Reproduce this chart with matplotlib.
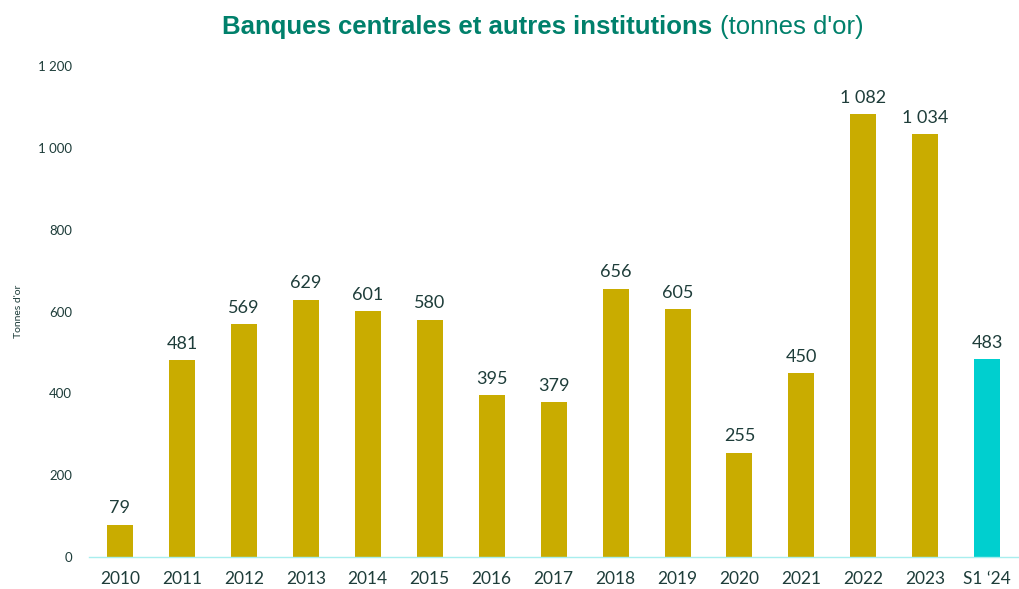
import matplotlib
matplotlib.use("Agg")
import matplotlib.pyplot as plt

categories = ["2010", "2011", "2012", "2013", "2014", "2015", "2016", "2017",
              "2018", "2019", "2020", "2021", "2022", "2023", "S1 \u201824"]
values = [79, 481, 569, 629, 601, 580, 395, 379, 656, 605, 255, 450, 1082, 1034, 483]
yticks = [0, 200, 400, 600, 800, 1000, 1200]
ytick_labels = ["0", "200", "400", "600", "800", "1 000", "1 200"]

gold = "#C9AC00"
cyan = "#00CFCF"
text_c = "#1E3D3A"
colors = [gold] * (len(values) - 1) + [cyan]

fig = plt.figure(figsize=(10.19, 5.89), dpi=100)
ax = fig.add_axes([0.0873, 0.0543, 0.912, 0.8336])
x = list(range(len(categories)))
ax.bar(x, values, width=0.42, color=colors, zorder=2)
ax.set_xlim(-0.5, len(categories) - 0.5)
ax.set_ylim(0, 1200)
ax.set_yticks(yticks)
ax.set_yticklabels(ytick_labels, fontfamily="Lato", fontsize=9.5, color=text_c)
ax.set_xticks(x)
ax.set_xticklabels(categories, fontfamily="Lato", fontsize=12.5, color=text_c)
ax.tick_params(axis="both", length=0)
ax.tick_params(axis="y", pad=12)
ax.tick_params(axis="x", pad=10)
for s in ["top", "right", "left"]:
    ax.spines[s].set_visible(False)
ax.spines["bottom"].set_color("#A8EEEE")
ax.spines["bottom"].set_linewidth(1.0)

for xi, v in zip(x, values):
    lab = f"{v:,}".replace(",", " ")
    ax.annotate(lab, (xi, v), xytext=(0, 6), textcoords="offset points",
                ha="center", va="bottom", fontfamily="Lato", fontsize=13, color=text_c)

ax.set_ylabel("Tonnes d'or", fontfamily="Lato", fontsize=7.5, color=text_c)
ax.yaxis.set_label_coords(-0.071, 0.5)

t1 = fig.text(222 / 1019, 0.955, "Banques centrales et autres institutions", fontfamily="Liberation Sans",
              fontweight="bold", fontsize=18.5, color="#00806B", ha="left", va="center")
fig.canvas.draw()
bb = t1.get_window_extent()
fig.text((bb.x1 + 8) / 1019, 0.955, "(tonnes d'or)", fontfamily="Liberation Sans",
         fontsize=18.5, color="#00806B", ha="left", va="center")

fig.savefig("out.png", dpi=100)
